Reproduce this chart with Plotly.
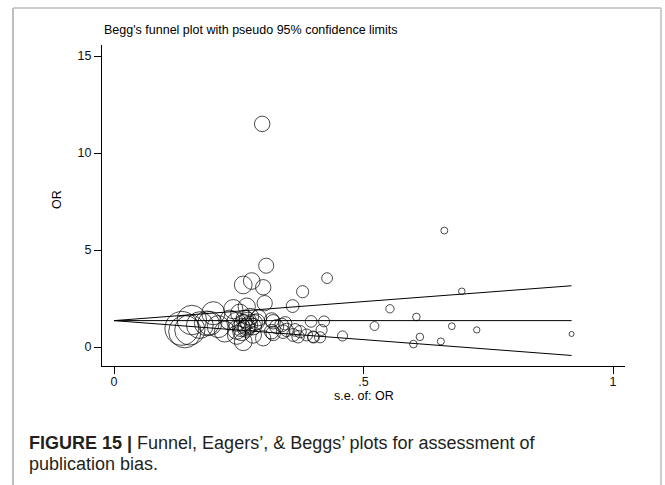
import plotly.graph_objects as go

# ---- data ----
se = [0.297, 0.662, 0.305, 0.427, 0.276, 0.259, 0.299, 0.378, 0.697, 0.302,
      0.358, 0.266, 0.553, 0.239, 0.199, 0.252, 0.606, 0.273, 0.156, 0.232,
      0.316, 0.286, 0.319, 0.395, 0.421, 0.343, 0.192, 0.259, 0.172, 0.336,
      0.522, 0.677, 0.326, 0.266, 0.209, 0.279, 0.136, 0.152, 0.246, 0.346,
      0.363, 0.416, 0.727, 0.142, 0.222, 0.256, 0.316, 0.339, 0.373, 0.319,
      0.917, 0.246, 0.279, 0.359, 0.386, 0.458, 0.369, 0.399, 0.613, 0.400,
      0.413, 0.299, 0.655, 0.259, 0.600, 0.186, 0.262, 0.268, 0.271, 0.255,
      0.265, 0.281, 0.290, 0.245]
odds = [11.5, 6.0, 4.19, 3.55, 3.40, 3.20, 3.08, 2.85, 2.87, 2.26,
        2.11, 2.08, 1.97, 1.95, 1.74, 1.74, 1.55, 1.56, 1.39, 1.39,
        1.39, 1.30, 1.30, 1.32, 1.32, 1.22, 1.22, 1.22, 1.13, 1.13,
        1.08, 1.07, 1.05, 1.05, 1.05, 1.05, 0.96, 0.88, 0.88, 0.88,
        0.88, 0.88, 0.88, 0.79, 0.79, 0.79, 0.79, 0.79, 0.79, 0.70,
        0.67, 0.62, 0.62, 0.62, 0.62, 0.57, 0.53, 0.53, 0.52, 0.50,
        0.50, 0.45, 0.29, 0.27, 0.15, 1.22, 1.45, 1.35, 1.15, 1.00,
        0.95, 1.25, 1.50, 1.30]
pooled_or = 1.36
z95 = 1.96
x_ticks = [0, 0.5, 1]
x_ticktext = ["0", ".5", "1"]
y_ticks = [0, 5, 10, 15]
y_ticktext = ["0", "5", "10", "15"]

title_text = "Begg's funnel plot with pseudo 95% confidence limits"
x_title = "s.e. of: OR"
y_title = "OR"
caption1 = "<b>FIGURE 15 |</b> Funnel, Eagers’, & Beggs’ plots for assessment of"
caption2 = "publication bias."

# ---- layout geometry (pixels) ----
W, H = 665, 485
L, R, T, B = 102, 625, 45, 366


def px(x):
    return (x - L) / (R - L)


def py(y):
    return (B - y) / (B - T)


FONT = "Liberation Sans, Arial, Helvetica, sans-serif"

se_max = max(se)
line_x = [0, se_max]
upper = [pooled_or + z95 * s for s in line_x]
lower = [pooled_or - z95 * s for s in line_x]
center = [pooled_or for s in line_x]

fig = go.Figure()
for yy in (upper, center, lower):
    fig.add_trace(go.Scatter(x=line_x, y=yy, mode="lines",
                             line=dict(color="black", width=1),
                             hoverinfo="skip", showlegend=False))

fig.add_trace(go.Scatter(
    x=se, y=odds, mode="markers", showlegend=False,
    marker=dict(symbol="circle-open", color="black",
                size=[4.6 / s for s in se], sizemode="diameter",
                line=dict(color="black", width=1))))

fig.update_layout(
    width=W, height=H,
    margin=dict(l=L, r=W - R, t=T, b=H - B, autoexpand=False),
    paper_bgcolor="white", plot_bgcolor="white",
    font=dict(family=FONT, size=12.5, color="#111"),
    xaxis=dict(range=[(L - 114) / 499, (R - 114) / 499],
               tickvals=x_ticks, ticktext=x_ticktext,
               ticks="outside", ticklen=7, tickcolor="black", tickwidth=1,
               ticklabelstandoff=-3,
               showline=True, linecolor="black", linewidth=1.2,
               showgrid=False, zeroline=False),
    yaxis=dict(range=[(347 - B) / 19.4, (347 - T) / 19.4],
               tickvals=y_ticks, ticktext=y_ticktext,
               ticks="outside", ticklen=7, tickcolor="black", tickwidth=1,
               showline=True, linecolor="black", linewidth=1.2,
               showgrid=False, zeroline=False),
    shapes=[
        dict(type="line", xref="paper", yref="paper",
             x0=px(13), x1=px(13), y0=py(8), y1=py(486),
             line=dict(color="#bdbdbd", width=2)),
        dict(type="line", xref="paper", yref="paper",
             x0=px(13), x1=px(661), y0=py(8), y1=py(8),
             line=dict(color="#bdbdbd", width=1.5)),
        dict(type="line", xref="paper", yref="paper",
             x0=px(661), x1=px(661), y0=py(8), y1=py(486),
             line=dict(color="#bdbdbd", width=1.5)),
    ],
    annotations=[
        dict(text=title_text, xref="paper", yref="paper",
             x=px(102), y=py(30), xanchor="left", yanchor="middle",
             showarrow=False, font=dict(size=12.5, color="black")),
        dict(text=y_title, xref="paper", yref="paper", textangle=-90,
             x=px(57), y=py(200), xanchor="center", yanchor="middle",
             showarrow=False, font=dict(size=12.5, color="black")),
        dict(text=x_title, xref="paper", yref="paper",
             x=px(364), y=py(396), xanchor="center", yanchor="middle",
             showarrow=False, font=dict(size=12.5, color="black")),
        dict(text=caption1, xref="paper", yref="paper",
             x=px(27), y=py(443), xanchor="left", yanchor="middle",
             showarrow=False, font=dict(size=18, color="#231f20")),
        dict(text=caption2, xref="paper", yref="paper",
             x=px(27), y=py(464), xanchor="left", yanchor="middle",
             showarrow=False, font=dict(size=18, color="#231f20")),
    ],
)

fig.write_html("out.html")
